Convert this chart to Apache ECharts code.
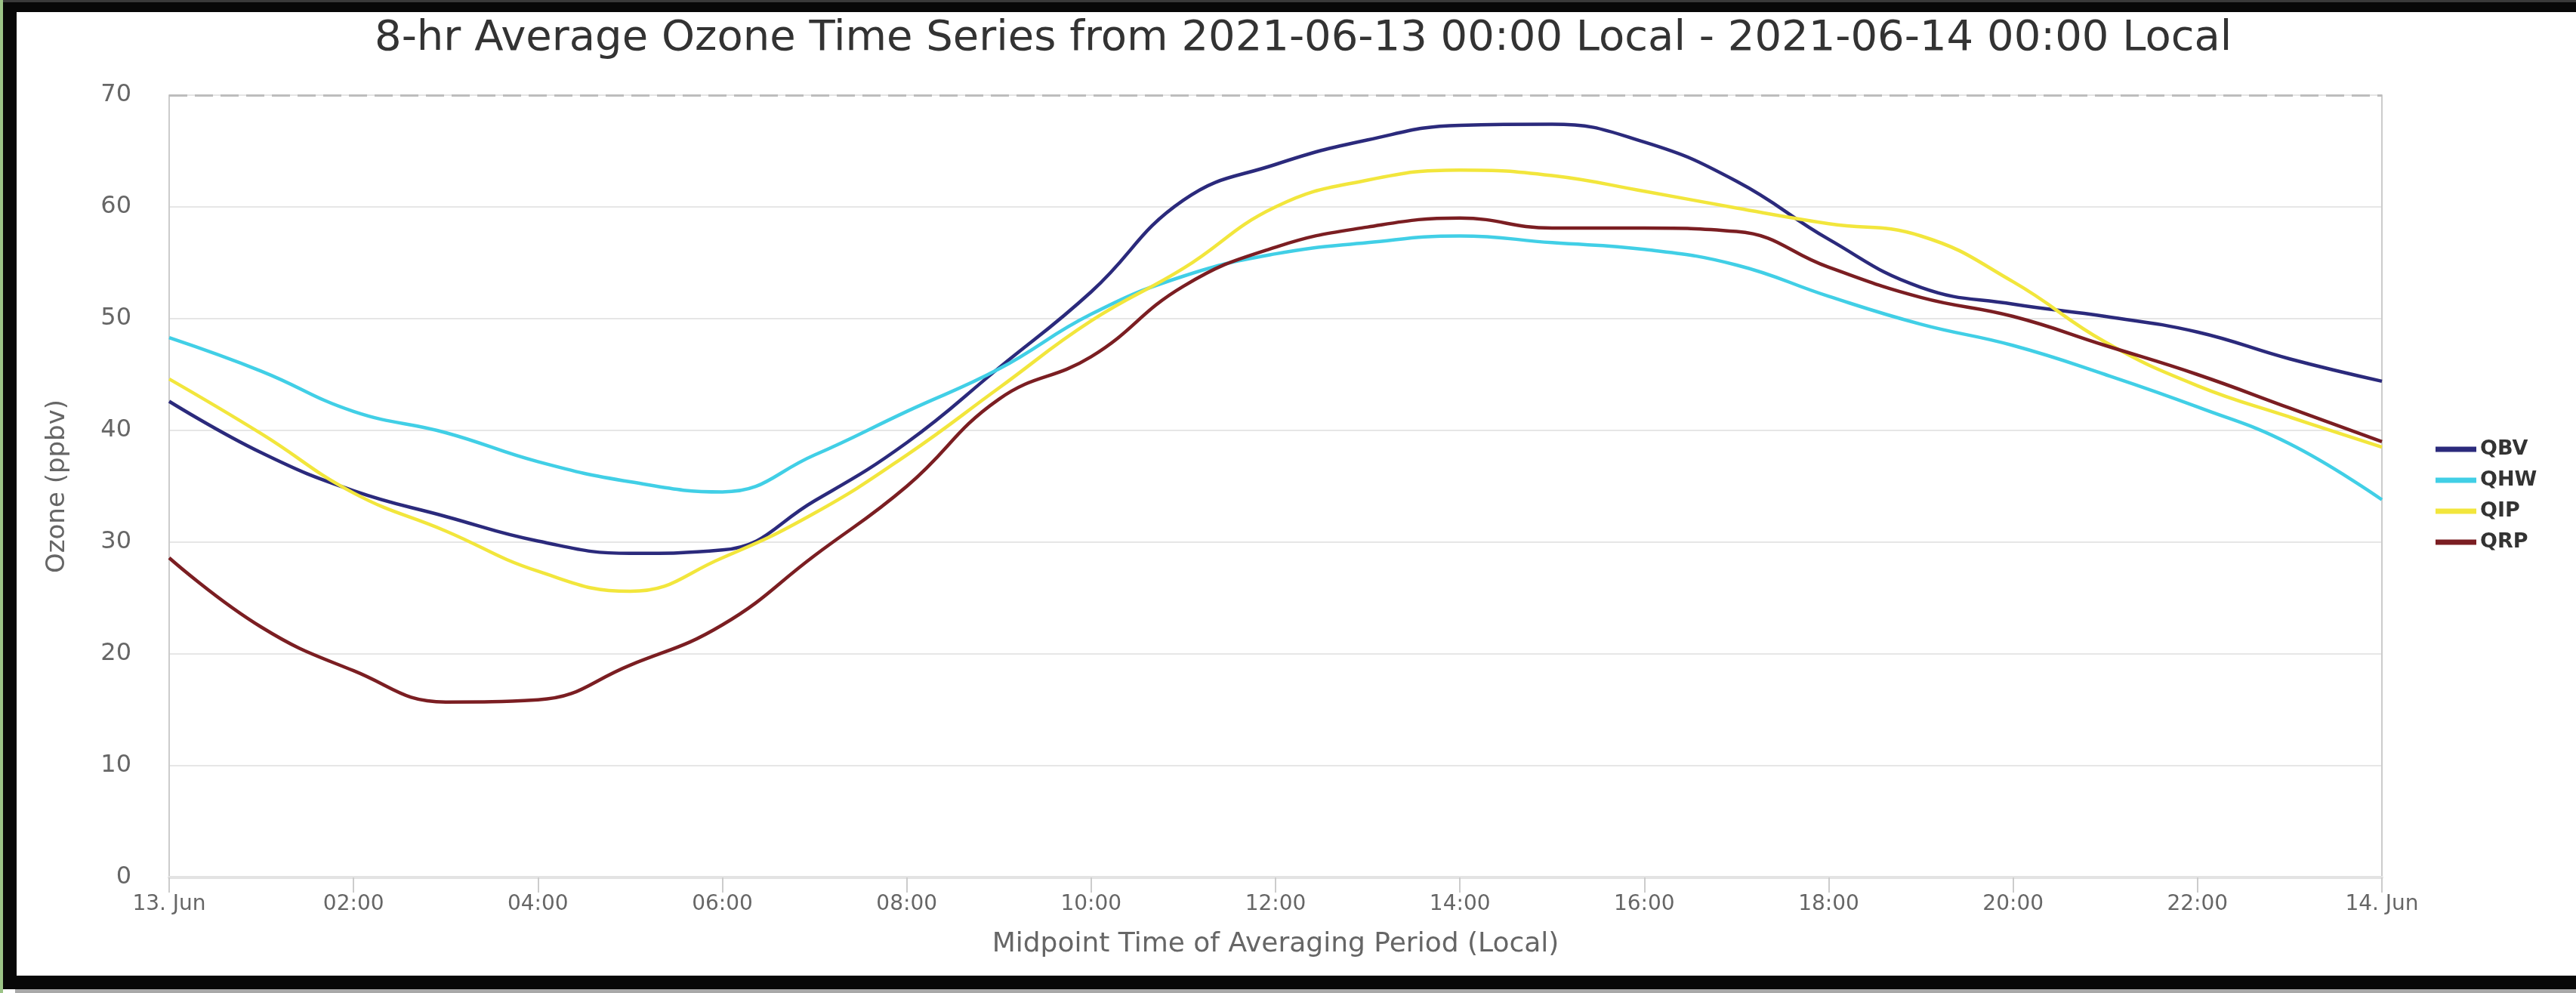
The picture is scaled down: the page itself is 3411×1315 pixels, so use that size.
<!DOCTYPE html>
<html>
<head>
<meta charset="utf-8">
<script src="https://cdn.jsdelivr.net/npm/echarts@6/dist/echarts.min.js"></script>
<style>
  html, body { margin: 0; padding: 0; background: #ffffff; }
  #chart { position: absolute; left: 0; top: 0; width: 3411px; height: 1315px; }
  .fr { position: absolute; pointer-events: none; }
</style>
</head>
<body>
<div id="chart"></div>
<div class="fr" style="left:0;top:0;width:3411px;height:3px;background:#3a3a3a"></div>
<div class="fr" style="left:0;top:3px;width:3411px;height:13px;background:#080808"></div>
<div class="fr" style="left:0;top:0;width:4px;height:1315px;background:#9cc487"></div>
<div class="fr" style="left:4px;top:3px;width:18px;height:1307px;background:#080808"></div>
<div class="fr" style="left:4px;top:1292px;width:3407px;height:18px;background:#080808"></div>
<div class="fr" style="left:20px;top:1310px;width:3391px;height:5px;background:#a8a8a8"></div>
<script>
// ---- data ----
const hours = [0,1,2,3,4,5,6,7,8,9,10,11,12,13,14,15,16,17,18,19,20,21,22,23,24];
const QBV = [42.6,38.0,34.6,32.3,30.1,29.0,29.3,33.7,38.9,45.6,52.4,60.6,63.8,66.0,67.3,67.4,65.8,62.3,57.1,52.8,51.3,50.2,48.8,46.4,44.4];
const QHW = [48.3,45.3,41.7,39.8,37.2,35.4,34.5,37.8,41.7,45.5,50.4,53.8,55.8,56.8,57.4,56.8,56.2,54.8,52.0,49.5,47.6,45.0,42.1,38.8,33.8];
const QIP = [44.6,39.7,34.4,31.0,27.4,25.6,28.6,32.6,37.8,43.8,49.8,54.5,60.0,62.4,63.3,62.8,61.4,59.9,58.5,57.4,53.3,47.9,44.0,41.2,38.5];
const QRP = [28.6,22.4,18.5,15.7,15.9,19.0,22.6,28.8,35.0,42.8,46.6,52.9,56.4,58.2,59.0,58.1,58.1,57.8,54.6,51.9,50.2,47.6,45.0,42.0,39.0];
const seriesNames = ['QBV','QHW','QIP','QRP'];
const seriesColors = ['#2b2a7c','#41cfe6','#f2e63c','#7b1e22'];
const xTickLabels = {0:'13. Jun',2:'02:00',4:'04:00',6:'06:00',8:'08:00',10:'10:00',12:'12:00',14:'14:00',16:'16:00',18:'18:00',20:'20:00',22:'22:00',24:'14. Jun'};
const titleText = '8-hr Average Ozone Time Series from 2021-06-13 00:00 Local - 2021-06-14 00:00 Local';

const values = [QBV, QHW, QIP, QRP];
const chart = echarts.init(document.getElementById('chart'), null, {renderer: 'canvas'});
const font = "'DejaVu Sans', Verdana, sans-serif";

const series = seriesNames.map((n, i) => ({
  name: n,
  type: 'line',
  data: hours.map((h, j) => [h, values[i][j]]),
  smooth: 0.45,
  showSymbol: false,
  symbol: 'none',
  lineStyle: { width: 4.5, color: seriesColors[i] },
  itemStyle: { color: seriesColors[i] },
  z: 3 + i,
  markLine: i === 0 ? {
    silent: true, symbol: 'none', label: { show: false },
    lineStyle: { type: [24, 10], color: '#bdbdbd', width: 3 },
    data: [{ yAxis: 70 }]
  } : undefined
}));

chart.setOption({
  animation: false,
  backgroundColor: '#ffffff',
  title: {
    text: titleText, left: 491, top: 18, padding: 5,
    textStyle: { fontFamily: font, fontSize: 56, fontWeight: 'normal', color: '#333333' }
  },
  legend: {
    orient: 'vertical', left: 3220, top: 576,
    icon: 'rect', itemWidth: 54, itemHeight: 7, itemGap: 13,
    data: seriesNames,
    textStyle: { fontFamily: font, fontSize: 27, fontWeight: 'bold', color: '#333333', lineHeight: 28 }
  },
  grid: { left: 224, right: 257, top: 126, bottom: 153, containLabel: false },
  xAxis: {
    type: 'value', min: 0, max: 24, interval: 2,
    name: 'Midpoint Time of Averaging Period (Local)', nameLocation: 'middle', nameGap: 71,
    nameTextStyle: { fontFamily: font, fontSize: 36, color: '#666666' },
    axisLine: { show: true, lineStyle: { color: '#e3e3e3', width: 4 } },
    axisTick: { show: true, length: 20, lineStyle: { color: '#cccccc', width: 2 } },
    axisLabel: { margin: 22, fontFamily: font, fontSize: 28, color: '#666666',
      formatter: v => xTickLabels[v] !== undefined ? xTickLabels[v] : '' },
    splitLine: { show: false }
  },
  yAxis: [{
    type: 'value', min: 0, max: 70, interval: 10,
    name: 'Ozone (ppbv)', nameLocation: 'middle', nameGap: 131,
    nameTextStyle: { fontFamily: font, fontSize: 34, color: '#666666' },
    axisLine: { show: true, lineStyle: { color: '#cccccc', width: 2 } },
    axisTick: { show: false },
    axisLabel: { margin: 50, fontFamily: font, fontSize: 32, color: '#666666' },
    splitLine: { show: true, lineStyle: { color: '#e6e6e6', width: 2 } }
  }, {
    type: 'value', min: 0, max: 70, interval: 10, position: 'right',
    axisLine: { show: true, lineStyle: { color: '#cccccc', width: 2 } },
    axisTick: { show: false }, axisLabel: { show: false }, splitLine: { show: false }
  }],
  series: series
});
</script>
</body>
</html>
